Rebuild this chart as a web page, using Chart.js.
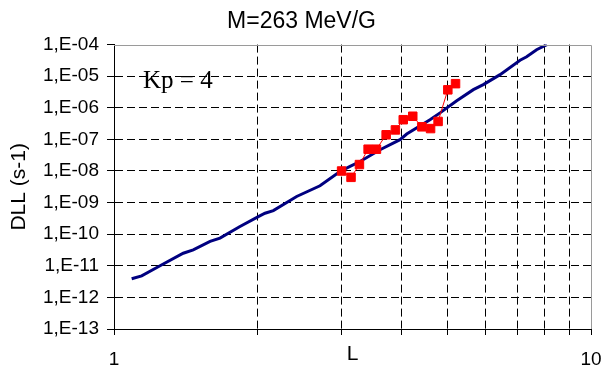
<!DOCTYPE html>
<html>
<head>
<meta charset="utf-8">
<script src="https://cdn.jsdelivr.net/npm/chart.js@4/dist/chart.umd.min.js"></script>
<style>
  html, body { margin: 0; padding: 0; background: #fff; }
</style>
</head>
<body>
<canvas id="dllChart" width="603" height="372"></canvas>
<script>
// model curve (blue)
const modelL = [1.089, 1.143, 1.249, 1.397, 1.466, 1.590, 1.668, 1.837, 2.007, 2.073, 2.158, 2.415, 2.703, 2.977, 3.125, 3.28, 3.612, 3.978, 4.108, 4.597, 4.825, 5.23, 5.667, 5.946, 6.447, 7.10, 7.33, 7.69, 8.08];
const modelD = [3.9e-12, 4.8e-12, 1.0e-11, 2.5e-11, 3.2e-11, 5.9e-11, 7.5e-11, 1.75e-10, 3.6e-10, 4.6e-10, 5.6e-10, 1.56e-9, 3.4e-9, 9.7e-9, 1.4e-8, 2.0e-8, 4.7e-8, 9.8e-8, 1.48e-7, 4.2e-7, 6.9e-7, 1.68e-6, 3.75e-6, 5.4e-6, 1.12e-5, 3.2e-5, 4.1e-5, 6.9e-5, 1.0e-4];

// measured values (red squares)
const measL = [3.0, 3.14, 3.27, 3.41, 3.55, 3.72, 3.89, 4.04, 4.23, 4.42, 4.61, 4.78, 5.01, 5.2];
const measD = [1.0e-8, 6.3e-9, 1.6e-8, 4.9e-8, 4.9e-8, 1.4e-7, 2.0e-7, 4.2e-7, 5.4e-7, 2.5e-7, 2.2e-7, 3.7e-7, 3.7e-6, 5.8e-6];

// axis ticks
const xTicks = [1, 2, 3, 4, 5, 6, 7, 8, 9, 10];
const xLabels = [1, 10];
const yTicks = [1e-13, 1e-12, 1e-11, 1e-10, 1e-9, 1e-8, 1e-7, 1e-6, 1e-5, 1e-4];

const sans = '"Liberation Sans", Arial, sans-serif';

function toPoints(xs, ys) {
    return xs.map((x, i) => ({ x: x, y: ys[i] }));
}

function expLabel(v) {
    const e = Math.round(Math.log10(v));
    const a = Math.abs(e);
    return '1,E' + (e < 0 ? '-' : '+') + (a < 10 ? '0' + a : a);
}

function isEdge(v, lo, hi) {
    const l = Math.log10(v);
    return Math.abs(l - lo) < 0.01 || Math.abs(l - hi) < 0.01;
}

// top/right frame and the Kp note
const framePlugin = {
    id: 'frame',
    afterDraw(chart) {
        const { ctx, chartArea: a } = chart;
        ctx.save();
        ctx.strokeStyle = '#9a9a9a';
        ctx.lineWidth = 1;
        ctx.beginPath();
        ctx.moveTo(a.left, Math.round(a.top) + 0.5);
        ctx.lineTo(Math.round(a.right) + 0.5, Math.round(a.top) + 0.5);
        ctx.lineTo(Math.round(a.right) + 0.5, a.bottom);
        ctx.stroke();
        ctx.fillStyle = '#000';
        ctx.font = '25px "Liberation Serif", "Times New Roman", serif';
        ctx.textBaseline = 'alphabetic';
        ctx.fillText('Kp = 4', a.left + 29, a.top + 43);
        ctx.restore();
    }
};

new Chart(document.getElementById('dllChart'), {
    type: 'scatter',
    data: {
        datasets: [{
            data: toPoints(measL, measD),
            showLine: true,
            borderColor: '#ff0000',
            borderWidth: 1,
            backgroundColor: '#ff0000',
            pointStyle: 'rect',
            pointRadius: 6,
            pointBorderWidth: 1,
            pointBorderColor: '#ff0000'
        }, {
            data: toPoints(modelL, modelD),
            showLine: true,
            borderColor: '#000080',
            borderWidth: 3,
            pointRadius: 0,
            tension: 0
        }]
    },
    options: {
        responsive: false,
        animation: false,
        devicePixelRatio: 1,
        layout: { padding: { left: 0, right: 0, top: 0, bottom: 0 } },
        plugins: {
            legend: { display: false },
            tooltip: { enabled: false },
            title: {
                display: true,
                text: 'M=263 MeV/G',
                color: '#000',
                font: { family: sans, size: 23, weight: 'normal' },
                padding: { top: 8, bottom: 9 }
            }
        },
        scales: {
            x: {
                type: 'logarithmic',
                min: 1,
                max: 10,
                afterBuildTicks: (scale) => {
                    scale.ticks = xTicks.map(v => ({ value: v }));
                },
                afterFit: (scale) => {
                    scale.height = 43;
                    scale.paddingLeft = 0;
                    scale.paddingRight = 12;
                },
                ticks: {
                    color: '#000',
                    padding: 13,
                    maxRotation: 0,
                    autoSkip: false,
                    font: { family: sans, size: 19 },
                    callback: (v) => xLabels.includes(v) ? String(v) : ''
                },
                grid: {
                    color: (c) => (c.tick && isEdge(c.tick.value, 0, 1)) ? 'rgba(0,0,0,0)' : '#000',
                    tickColor: '#000',
                    tickLength: 6
                },
                border: { display: true, color: '#000', width: 1, dash: [8, 4] },
                title: {
                    display: true,
                    text: 'L',
                    color: '#000',
                    font: { family: sans, size: 21 },
                    padding: { top: -30, bottom: 5 }
                }
            },
            y: {
                type: 'logarithmic',
                min: 1e-13,
                max: 1e-4,
                afterBuildTicks: (scale) => {
                    scale.ticks = yTicks.map(v => ({ value: v }));
                },
                afterFit: (scale) => { scale.width = 114; },
                ticks: {
                    color: '#000',
                    padding: 8,
                    autoSkip: false,
                    font: { family: sans, size: 19 },
                    callback: (v) => expLabel(v)
                },
                grid: {
                    color: (c) => (c.tick && isEdge(c.tick.value, -13, -4)) ? 'rgba(0,0,0,0)' : '#000',
                    tickColor: '#000',
                    tickLength: 7
                },
                border: { display: true, color: '#000', width: 1, dash: [8, 4] },
                title: {
                    display: true,
                    text: 'DLL (s-1)',
                    color: '#000',
                    font: { family: sans, size: 21 },
                    padding: { top: 7, bottom: 0 }
                }
            }
        }
    },
    plugins: [framePlugin]
});
</script>
</body>
</html>
